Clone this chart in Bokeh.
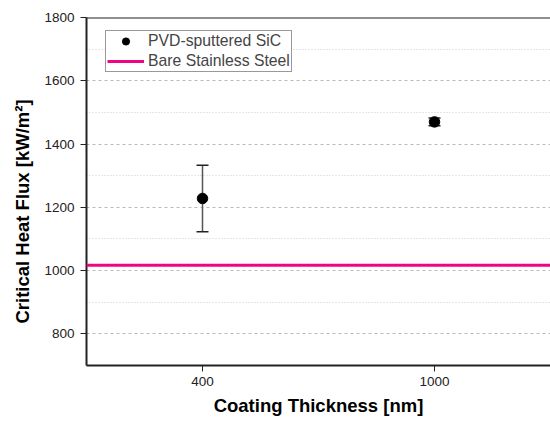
from bokeh.plotting import figure
from bokeh.models import (FactorRange, Range1d, FixedTicker, Whisker, ColumnDataSource,
                          Span, Legend, LegendItem, Title)
from bokeh.embed import file_html
from bokeh.resources import INLINE

thickness = ["400", "1000"]
chf_sic = [1228, 1470]
chf_err = [105, 12]
chf_bare = 1017
y_ticks = [800, 1000, 1200, 1400, 1600, 1800]
y_minor = [900, 1100, 1300, 1500, 1700]

lower = [v - e for v, e in zip(chf_sic, chf_err)]
upper = [v + e for v, e in zip(chf_sic, chf_err)]
src = ColumnDataSource(dict(x=thickness, y=chf_sic, lo=lower, hi=upper))

p = figure(width=550, height=418, output_backend="svg", toolbar_location=None,
           x_range=FactorRange(*thickness, range_padding=0.0), y_range=Range1d(700, 1800),
           min_border_left=86, min_border_right=0, min_border_top=17, min_border_bottom=50)
p.outline_line_color = None
p.background_fill_color = "white"
p.border_fill_color = "white"

FONT = "Liberation Sans"
for ax in (p.xaxis[0], p.yaxis[0]):
    ax.axis_line_width = 2
    ax.axis_line_color = "#222222"
    ax.major_tick_line_color = "#222222"
    ax.major_tick_line_width = 1
    ax.major_tick_out = 6
    ax.major_tick_in = 0
    ax.minor_tick_line_color = None
    ax.major_label_text_font = FONT
    ax.major_label_text_font_size = "13.5px"
    ax.major_label_text_color = "#222222"
    ax.axis_label_text_font = FONT
    ax.axis_label_text_font_style = "bold"
    ax.axis_label_text_color = "black"

p.xaxis.axis_label = "Coating Thickness [nm]"
p.xaxis.axis_label_text_font_size = "18.5px"
p.yaxis.ticker = FixedTicker(ticks=y_ticks, minor_ticks=y_minor)
p.yaxis.major_label_standoff = 6
p.xaxis.major_label_standoff = 5
p.xaxis.axis_label_standoff = 6

# y-axis title, placed like the original (slightly below the frame centre)
ytitle = Title(text="Critical Heat Flux [kW/m²]", align="left", offset=42,
               text_font=FONT, text_font_style="bold", text_font_size="18.5px",
               text_color="black", standoff=17)
p.add_layout(ytitle, "left")

p.xgrid.grid_line_color = None
p.ygrid.grid_line_color = "#bbbbbb"
p.ygrid.grid_line_dash = "3 3"
p.ygrid.minor_grid_line_color = "#cccccc"
p.ygrid.minor_grid_line_dash = "1 2"

top = Span(location=1800, dimension="width", line_color="#222222", line_width=2)
p.add_layout(top)

bare = Span(location=chf_bare, dimension="width", line_color="#F0047F", line_width=3)
p.add_layout(bare)

w = Whisker(source=src, base="x", lower="lo", upper="hi", line_color="#555555",
            line_width=1.5)
w.upper_head.size = 12
w.lower_head.size = 12
w.upper_head.line_color = "#222222"
w.lower_head.line_color = "#222222"
w.upper_head.line_width = 1.5
w.lower_head.line_width = 1.5
p.add_layout(w)

sc = p.scatter("x", "y", source=src, size=10.5, color="black")
# single-point line renderer used only for the legend entry
ln = p.line(x=[thickness[0]], y=[chf_bare], line_color="#F0047F", line_width=3)

legend = Legend(items=[LegendItem(label="PVD-sputtered SiC", renderers=[sc]),
                       LegendItem(label="Bare Stainless Steel", renderers=[ln])],
                location=(19, 293), padding=1, spacing=2, margin=0,
                label_text_font=FONT, label_text_font_size="15.75px",
                label_height=18, glyph_height=18, glyph_width=37, label_standoff=4,
                border_line_color="#333333", border_line_width=1,
                background_fill_alpha=1)
p.add_layout(legend)

open("out.html", "w").write(file_html(p, INLINE))
